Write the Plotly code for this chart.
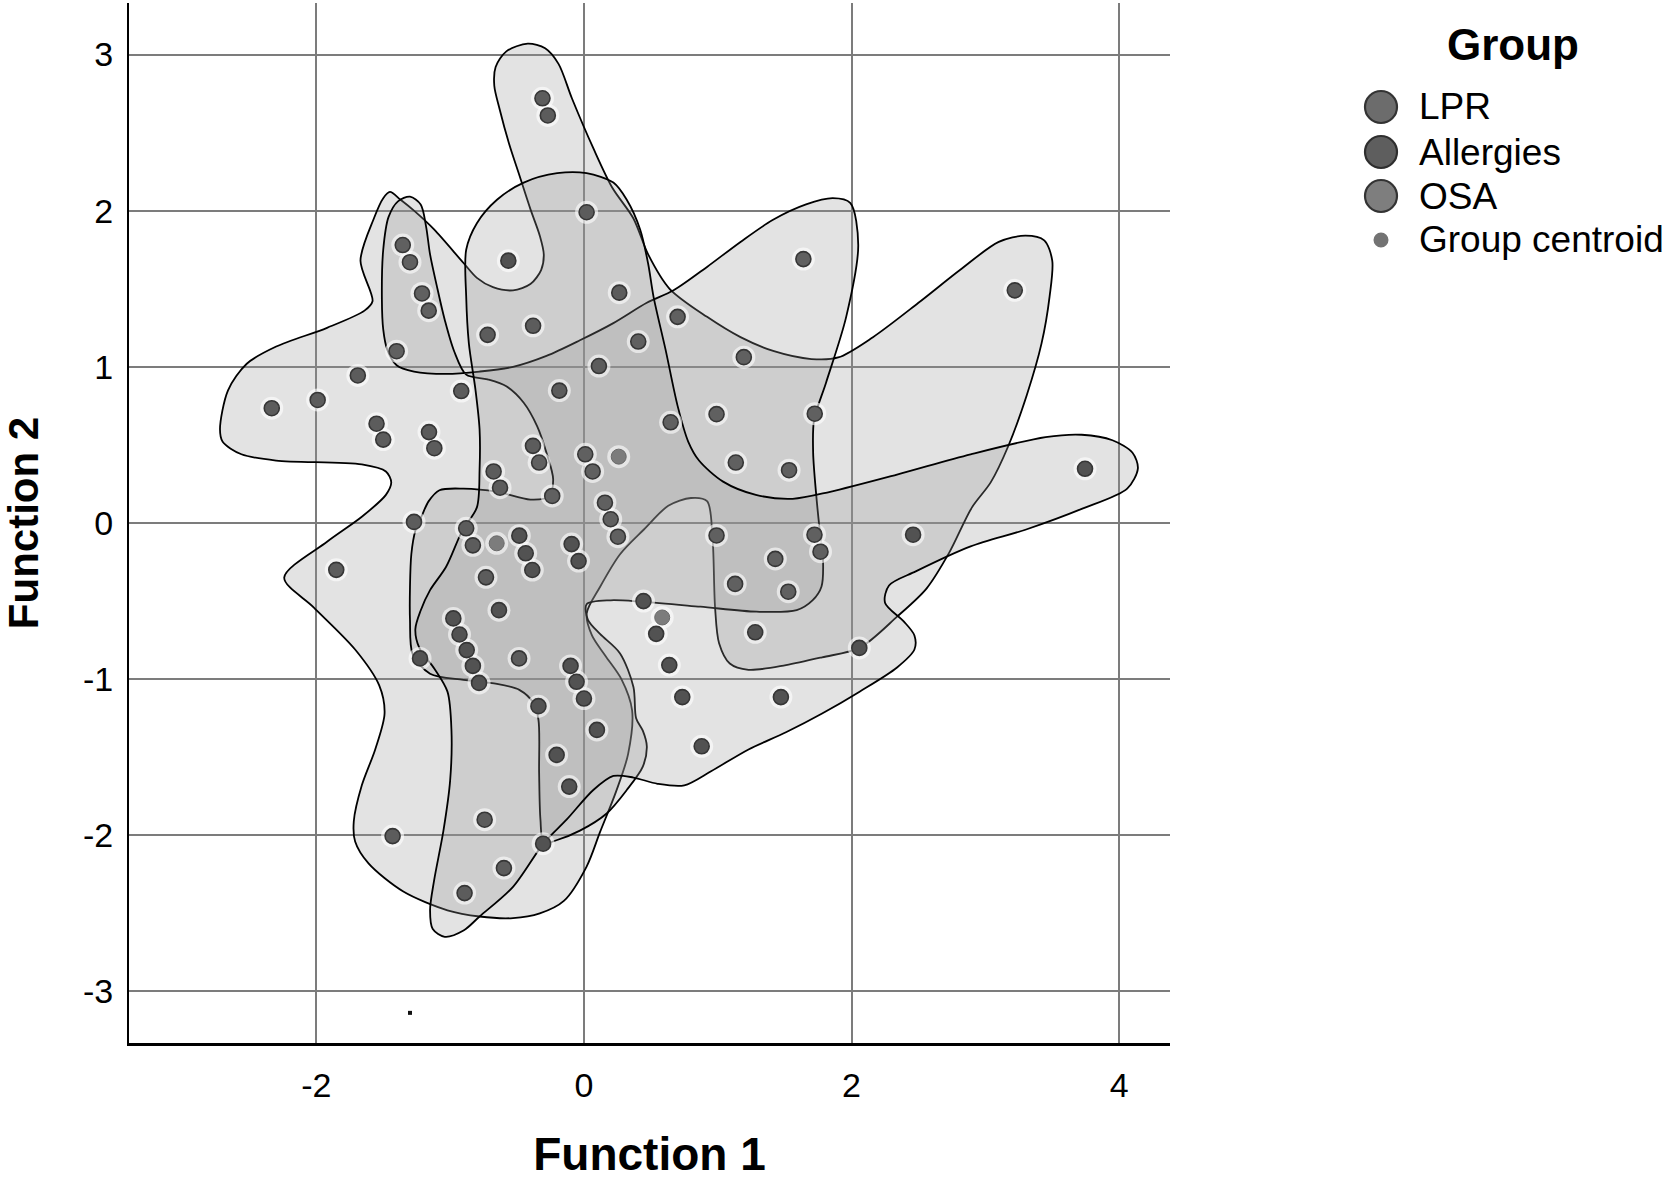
import plotly.graph_objects as go

# ---------------- data ----------------
x_tick_values = [-2, 0, 2, 4]
x_tick_labels = ["-2", "0", "2", "4"]
y_tick_values = [-3, -2, -1, 0, 1, 2, 3]
y_tick_labels = ["-3", "-2", "-1", "0", "1", "2", "3"]

legend_labels = ["LPR", "Allergies", "OSA", "Group centroid"]

lpr_x = [-0.31, -0.27, 0.02, 3.22, -0.72, -0.38, 0.264, 0.112, -0.184, -0.917,
         -1.69, -2.333, -1.99, -1.55, -1.50, -1.158, -1.118, -0.381, -0.675, -0.627,
         -1.27, -0.88, -0.83, -1.851, -0.732, -0.485, -0.742, -1.43, -0.598, -0.892]
lpr_y = [2.72, 2.61, 1.99, 1.49, 1.205, 1.263, 1.475, 1.005, 0.848, 0.845,
         0.945, 0.735, 0.788, 0.636, 0.534, 0.582, 0.479, 0.494, 0.33, 0.226,
         0.007, -0.034, -0.143, -0.30, -0.348, -0.867, -1.90, -2.005, -2.21, -2.37]

allergies_x = [-0.565, 3.745, -0.483, -0.435, -0.386, -0.092, -0.04, -0.635, -0.976, -0.93,
               -0.876, -0.83, -0.784, -1.225, -0.10, -0.055, 0.0, -0.34, 2.46, 0.445,
               0.54, 1.28, 0.638, 2.058, 0.735, 1.472, 0.88, 0.097, -0.204, -0.11, -0.305]
allergies_y = [1.68, 0.347, -0.081, -0.194, -0.301, -0.135, -0.244, -0.558, -0.611, -0.714,
               -0.814, -0.915, -1.024, -0.867, -0.915, -1.017, -1.124, -1.173, -0.075, -0.50,
               -0.71, -0.70, -0.91, -0.80, -1.115, -1.115, -1.43, -1.325, -1.485, -1.688, -2.054]

osa_x = [1.64, -1.354, -1.30, -1.21, -1.16, -1.40, 0.70, 0.406, 1.195, 0.648,
         0.991, 1.725, 1.135, 1.533, -0.335, 0.01, 0.065, -0.237, 0.157, 0.20,
         0.254, 0.991, 1.723, 1.768, 1.43, 1.13, 1.527]
osa_y = [1.69, 1.78, 1.67, 1.47, 1.36, 1.10, 1.32, 1.162, 1.062, 0.645,
         0.697, 0.70, 0.387, 0.338, 0.387, 0.44, 0.33, 0.173, 0.13, 0.024,
         -0.088, -0.08, -0.075, -0.184, -0.23, -0.39, -0.44]

centroid_x = [0.26, -0.652, 0.585]
centroid_y = [0.425, -0.13, -0.605]

stray_x = [-1.30]
stray_y = [-3.137]

# hand-drawn group territories (outline vertices)
region_a_x = [-2.72, -2.66, -2.52, -2.30, -1.92, -1.64, -1.58, -1.67, -1.57, -1.50,
              -1.45, -1.37, -1.27, -1.12, -0.90, -0.80, -0.68, -0.53, -0.40, -0.32,
              -0.30, -0.33, -0.40, -0.48, -0.56, -0.63, -0.67, -0.66, -0.58, -0.42,
              -0.29, -0.19, -0.09, 0.07, 0.21, 0.37, 0.48, 0.64, 0.92, 1.17,
              1.42, 1.70, 1.90, 2.16, 2.50, 2.81, 3.10, 3.30, 3.44, 3.50,
              3.48, 3.42, 3.31, 3.17, 3.04, 2.90, 2.73, 2.56, 2.34, 2.06,
              1.78, 1.51, 1.23, 1.09, 1.01, 0.98, 0.96, 0.92, 0.80, 0.63,
              0.45, 0.27, 0.12, 0.02, 0.06, 0.16, 0.28, 0.36, 0.33, 0.24,
              0.12, 0.02, -0.15, -0.33, -0.53, -0.78, -1.02, -1.35, -1.61, -1.71,
              -1.72, -1.66, -1.56, -1.49, -1.53, -1.71, -2.02, -2.24, -1.92, -1.66,
              -1.48, -1.44, -1.48, -1.66, -2.30, -2.56, -2.70]
region_a_y = [0.60, 0.85, 1.02, 1.13, 1.25, 1.36, 1.42, 1.68, 1.95, 2.08,
              2.12, 2.07, 2.00, 1.88, 1.665, 1.57, 1.51, 1.49, 1.53, 1.62,
              1.72, 1.84, 2.01, 2.22, 2.43, 2.65, 2.80, 2.92, 3.02, 3.07,
              3.04, 2.94, 2.72, 2.40, 2.15, 1.95, 1.72, 1.50, 1.32, 1.19,
              1.10, 1.05, 1.06, 1.19, 1.41, 1.62, 1.80, 1.84, 1.81, 1.68,
              1.45, 1.15, 0.82, 0.49, 0.26, 0.10, -0.19, -0.42, -0.60, -0.80,
              -0.86, -0.91, -0.94, -0.90, -0.77, -0.54, -0.08, 0.14, 0.16, 0.11,
              -0.04, -0.20, -0.41, -0.58, -0.72, -0.85, -1.00, -1.20, -1.48, -1.72,
              -1.98, -2.20, -2.42, -2.50, -2.53, -2.52, -2.48, -2.36, -2.18, -2.04,
              -1.91, -1.68, -1.45, -1.22, -1.04, -0.81, -0.54, -0.35, -0.12, 0.04,
              0.18, 0.26, 0.33, 0.375, 0.40, 0.44, 0.52]

region_b_x = [-1.30, -1.22, -1.18, -1.15, -1.10, -1.04, -0.97, -0.88, -0.72, -0.58,
              -0.45, -0.35, -0.28, -0.23, -0.26, -0.40, -0.65, -0.90, -1.08, -1.16,
              -1.21, -1.26, -1.29, -1.30, -1.30, -1.28, -1.15, -0.90, -0.65, -0.48,
              -0.38, -0.34, -0.335, -0.325, -0.30, -0.20, -0.03, 0.17, 0.32, 0.44,
              0.47, 0.44, 0.39, 0.37, 0.27, 0.12, 0.03, 0.02, 0.20, 0.44,
              0.87, 1.29, 1.59, 1.71, 1.775, 1.787, 1.762, 1.737, 1.713, 1.72,
              1.81, 1.96, 2.05, 1.99, 1.86, 1.66, 1.41, 1.17, 0.92, 0.67,
              0.47, 0.22, -0.03, -0.28, -0.53, -0.78, -1.03, -1.27, -1.40, -1.47,
              -1.50, -1.51, -1.50, -1.46, -1.39]
region_b_y = [2.09, 2.04, 1.90, 1.72, 1.52, 1.30, 1.10, 0.95, 0.92, 0.875,
              0.77, 0.62, 0.45, 0.28, 0.17, 0.15, 0.20, 0.22, 0.21, 0.14,
              0.05, -0.05, -0.20, -0.41, -0.62, -0.84, -0.965, -1.005, -1.03, -1.07,
              -1.15, -1.26, -1.60, -1.90, -2.05, -2.03, -1.97, -1.86, -1.71, -1.56,
              -1.43, -1.33, -1.25, -1.05, -0.835, -0.71, -0.62, -0.52, -0.495, -0.505,
              -0.536, -0.568, -0.558, -0.494, -0.408, -0.237, -0.045, 0.17, 0.45, 0.66,
              0.90, 1.32, 1.78, 2.05, 2.08, 2.04, 1.94, 1.80, 1.64, 1.49,
              1.41, 1.28, 1.17, 1.07, 1.00, 0.97, 0.955, 0.97, 1.01, 1.11,
              1.24, 1.43, 1.75, 1.96, 2.06]

region_c_x = [-0.20, 0.02, 0.22, 0.32, 0.42, 0.48, 0.52, 0.61, 0.70, 0.78,
              0.86, 1.04, 1.285, 1.56, 1.84, 2.34, 2.89, 3.45, 3.72, 3.95,
              4.10, 4.14, 4.06, 3.72, 3.31, 2.89, 2.48, 2.28, 2.25, 2.39,
              2.47, 2.47, 2.34, 2.06, 1.78, 1.51, 1.23, 0.95, 0.75, 0.55,
              0.37, 0.22, 0.07, -0.13, -0.30, -0.53, -0.78, -0.90, -1.04, -1.13,
              -1.15, -1.12, -1.05, -1.00, -0.99, -1.02, -1.12, -1.23, -1.26, -1.22,
              -1.15, -1.03, -0.91, -0.80, -0.78, -0.78, -0.81, -0.86, -0.88, -0.88,
              -0.80, -0.65, -0.45]
region_c_y = [2.24, 2.24, 2.18, 2.07, 1.88, 1.66, 1.45, 1.11, 0.75, 0.52,
              0.40, 0.265, 0.18, 0.155, 0.20, 0.31, 0.44, 0.55, 0.565, 0.53,
              0.45, 0.35, 0.22, 0.09, -0.04, -0.15, -0.31, -0.40, -0.51, -0.63,
              -0.72, -0.81, -0.925, -1.08, -1.22, -1.34, -1.45, -1.59, -1.68, -1.67,
              -1.63, -1.62, -1.71, -1.90, -2.05, -2.33, -2.52, -2.61, -2.65, -2.60,
              -2.48, -2.29, -1.97, -1.65, -1.33, -1.08, -0.93, -0.80, -0.68, -0.56,
              -0.43, -0.28, -0.05, 0.10, 0.34, 0.60, 0.85, 1.15, 1.45, 1.75,
              1.92, 2.07, 2.18]

# ---------------- figure ----------------
FONT = "Liberation Sans, Arial, sans-serif"
fig = go.Figure()

for rx, ry in [(region_a_x, region_a_y), (region_b_x, region_b_y), (region_c_x, region_c_y)]:
    fig.add_trace(go.Scatter(
        x=rx + [rx[0]], y=ry + [ry[0]], mode="lines", fill="toself",
        fillcolor="rgba(150,150,150,0.27)",
        line=dict(color="black", width=1.8, shape="spline", smoothing=0.85),
        hoverinfo="skip", showlegend=False))

all_x = lpr_x + allergies_x + osa_x + centroid_x
all_y = lpr_y + allergies_y + osa_y + centroid_y
fig.add_trace(go.Scatter(x=all_x, y=all_y, mode="markers",
                         marker=dict(size=23, color="rgba(255,255,255,0.6)", line=dict(width=0)),
                         hoverinfo="skip", showlegend=False))

point_styles = [("LPR", lpr_x, lpr_y, "#5c5c5c"),
                ("Allergies", allergies_x, allergies_y, "#525252"),
                ("OSA", osa_x, osa_y, "#606060")]
for name, px, py, col in point_styles:
    fig.add_trace(go.Scatter(x=px, y=py, mode="markers", name=name,
                             marker=dict(size=15, color=col, line=dict(color="#363636", width=1.6)),
                             showlegend=False))
fig.add_trace(go.Scatter(x=centroid_x, y=centroid_y, mode="markers", name="Group centroid",
                         marker=dict(size=15, color="#7c7c7c", line=dict(color="#6a6a6a", width=1)),
                         showlegend=False))
fig.add_trace(go.Scatter(x=stray_x, y=stray_y, mode="markers",
                         marker=dict(size=4, symbol="square", color="#111111"),
                         hoverinfo="skip", showlegend=False))

# ---------------- manual legend ----------------
L, R, T, B = 129, 1170, 3, 1043
def px2x(p):
    return (p - L) / (R - L)
def py2y(p):
    return (B - p) / (B - T)

fig.add_annotation(x=px2x(1513), y=py2y(45), xref="paper", yref="paper", text="<b>Group</b>",
                   showarrow=False, xanchor="center", yanchor="middle",
                   font=dict(family=FONT, size=44, color="black"))
row_y = [107, 152, 196, 240]
legend_fill = ["#6c6c6c", "#5e5e5e", "#7e7e7e", "#737373"]
legend_line = ["#333333", "#2e2e2e", "#333333", "#737373"]
legend_r = [16, 16, 16, 7.5]
for lab, ry, fc, lc, r in zip(legend_labels, row_y, legend_fill, legend_line, legend_r):
    fig.add_shape(type="circle", xref="paper", yref="paper", xsizemode="pixel", ysizemode="pixel",
                  xanchor=px2x(1381), yanchor=py2y(ry), x0=-r, x1=r, y0=-r, y1=r,
                  fillcolor=fc, line=dict(color=lc, width=2.2 if r > 10 else 0))
    fig.add_annotation(x=px2x(1417), y=py2y(ry), xref="paper", yref="paper", text=lab,
                       showarrow=False, xanchor="left", yanchor="middle",
                       font=dict(family=FONT, size=37, color="black"))

fig.update_layout(
    width=1674, height=1180,
    margin=dict(l=L, r=1674 - R, t=T, b=1180 - B),
    paper_bgcolor="white", plot_bgcolor="white",
    showlegend=False,
    font=dict(family=FONT, color="black"),
    xaxis=dict(range=[-3.40, 4.38], tickvals=x_tick_values, ticktext=x_tick_labels,
               showgrid=True, gridcolor="#7c7c7c", gridwidth=1.8, zeroline=False,
               showline=True, linecolor="black", linewidth=3, ticks="",
               ticklabelstandoff=10, automargin=False,
               tickfont=dict(family=FONT, size=34, color="black"),
               title=dict(text="<b>Function 1</b>", standoff=42,
                          font=dict(family=FONT, size=46, color="black"))),
    yaxis=dict(range=[-3.33, 3.33], tickvals=y_tick_values, ticktext=y_tick_labels,
               showgrid=True, gridcolor="#7c7c7c", gridwidth=1.8, zeroline=False,
               showline=True, linecolor="black", linewidth=2, ticks="",
               ticklabelstandoff=7, automargin=False,
               tickfont=dict(family=FONT, size=34, color="black"),
               title=dict(text="<b>Function 2</b>", standoff=38,
                          font=dict(family=FONT, size=42, color="black"))),
)

fig.write_html("out.html", config={"displayModeBar": False},
               post_script="document.body.style.margin='0';")
